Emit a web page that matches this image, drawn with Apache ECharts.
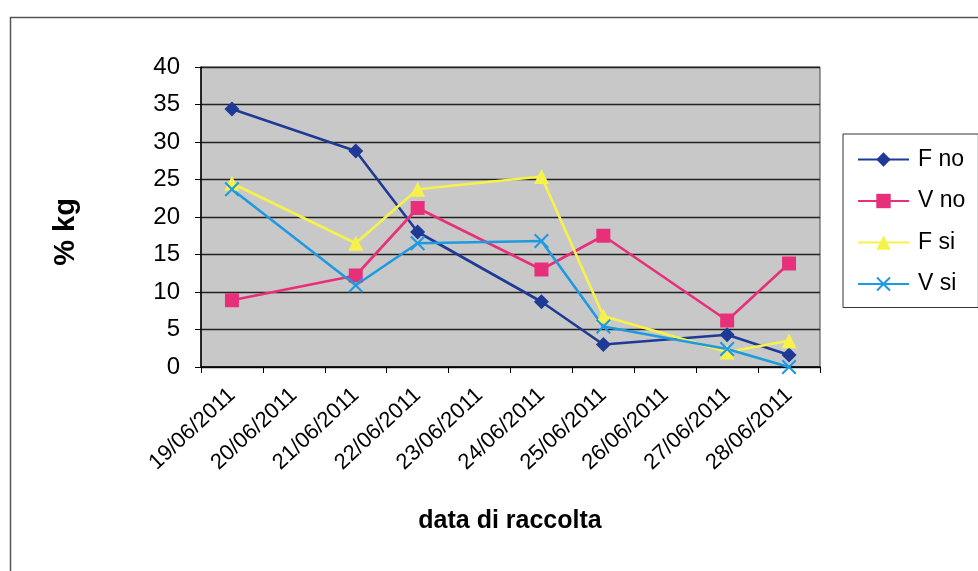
<!DOCTYPE html>
<html>
<head>
<meta charset="utf-8">
<script src="https://cdn.jsdelivr.net/npm/echarts@6/dist/echarts.min.js"></script>
<style>
html,body{margin:0;padding:0;background:#fff;}
#c{width:978px;height:571px;}
</style>
</head>
<body>
<div id="c"></div>
<script>
var categories = ['19/06/2011','20/06/2011','21/06/2011','22/06/2011','23/06/2011','24/06/2011','25/06/2011','26/06/2011','27/06/2011','28/06/2011'];
var fNo = [34.4, null, 28.8, 18.0, null, 8.7, 3.0, null, 4.3, 1.6];
var vNo = [8.9, null, 12.2, 21.2, null, 13.0, 17.5, null, 6.2, 13.8];
var fSi = [24.5, null, 16.5, 23.7, null, 25.4, 6.8, null, 2.0, 3.5];
var vSi = [23.7, null, 10.9, 16.5, null, 16.8, 5.4, null, 2.4, 0];
var seriesNames = ['F no', 'V no', 'F si', 'V si'];
var yTicks = {min: 0, max: 40, interval: 5};

var FONT = 'Liberation Sans, Arial, sans-serif';
var xSym = 'path://M0,1 L1,0 L5,4 L9,0 L10,1 L6,5 L10,9 L9,10 L5,6 L1,10 L0,9 L4,5 Z';

function mk(name, data, color, symbol, size) {
  return {
    name: name, type: 'line', data: data, connectNulls: true,
    symbol: symbol, symbolSize: size, showAllSymbol: true,
    lineStyle: {color: color, width: 2.6},
    itemStyle: {color: color},
    emphasis: {disabled: true},
    animation: false
  };
}

var chart = echarts.init(document.getElementById('c'));
chart.setOption({
  animation: false,
  textStyle: {fontFamily: FONT},
  grid: {left: 201, right: 158, top: 67, bottom: 204, show: true, backgroundColor: '#c8c8c8', borderColor: '#444', borderWidth: 1},
  legend: {
    orient: 'vertical', left: 843, top: 134,
    padding: [14, 13, 12, 14],
    itemWidth: 51, itemHeight: 18, itemGap: 18.5,
    borderColor: '#333', borderWidth: 1, backgroundColor: '#fff',
    textStyle: {fontSize: 23, color: '#000', fontFamily: FONT, padding: [0, 0, 0, 4]},
    data: seriesNames
  },
  xAxis: {
    type: 'category', data: categories, boundaryGap: true,
    axisLine: {lineStyle: {color: '#000', width: 1.5}},
    axisTick: {show: true, length: 6, lineStyle: {color: '#000'}},
    axisLabel: {rotate: 43, fontSize: 22, color: '#000', fontFamily: FONT, interval: 0, margin: 25},
    splitLine: {show: false}
  },
  yAxis: {
    type: 'value', min: yTicks.min, max: yTicks.max, interval: yTicks.interval,
    axisLine: {show: true, lineStyle: {color: '#000', width: 1.5}},
    axisTick: {show: true, length: 6, lineStyle: {color: '#000'}},
    axisLabel: {fontSize: 24, color: '#000', fontFamily: FONT, margin: 21},
    splitLine: {show: true, lineStyle: {color: '#222', width: 1.3}}
  },
  graphic: [
    {type: 'rect', left: 8, top: 15, shape: {width: 1000, height: 600}, style: {fill: 'none', stroke: '#555', lineWidth: 1.5}, z: -1},
    {type: 'text', style: {text: 'data di raccolta', font: 'bold 25px ' + FONT, fill: '#000', textAlign: 'center', textVerticalAlign: 'middle'}, position: [510, 521]},
    {type: 'text', style: {text: '% kg', font: 'bold 29px ' + FONT, fill: '#000', textAlign: 'center', textVerticalAlign: 'middle'}, position: [66, 232], rotation: Math.PI / 2}
  ],
  series: [
    mk(seriesNames[0], fNo, '#1f3a96', 'diamond', 15),
    mk(seriesNames[1], vNo, '#e8307a', 'rect', 14),
    mk(seriesNames[2], fSi, '#f7f24a', 'triangle', 15),
    mk(seriesNames[3], vSi, '#1e9be0', xSym, 15)
  ]
});
</script>
</body>
</html>
